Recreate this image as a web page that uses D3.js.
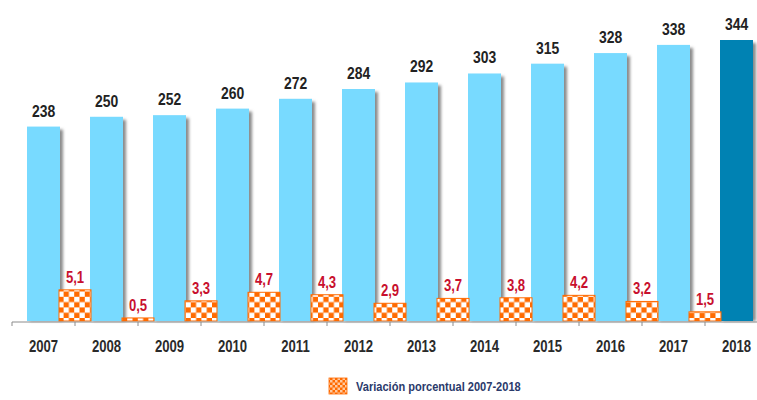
<!DOCTYPE html>
<html><head><meta charset="utf-8">
<script src="https://cdn.jsdelivr.net/npm/d3@7"></script>
<style>
html,body{margin:0;padding:0;background:#fff;}
svg{display:block;}
text{font-family:"Liberation Sans",Arial,sans-serif;}
</style></head>
<body><svg id="chart" width="757" height="400"></svg>
<script>
const years = ["2007","2008","2009","2010","2011","2012","2013","2014","2015","2016","2017","2018"];
const totals = [238,250,252,260,272,284,292,303,315,328,338,344];
const variation = [5.1,0.5,3.3,4.7,4.3,2.9,3.7,3.8,4.2,3.2,1.5];
const varLabels = ["5,1","0,5","3,3","4,7","4,3","2,9","3,7","3,8","4,2","3,2","1,5"];
const legendLabel = "Variación porcentual 2007-2018";

const NARROW = 0.82;
const svg = d3.select("#chart");
const baseY = 321;
const x = d3.scaleBand().domain(years).range([12, 768]).padding(0);
const y = d3.scaleLinear().domain([0, 344]).range([baseY, 40]);
const yv = d3.scaleLinear().domain([0, 46]).range([baseY, 40]);
const bw = x.bandwidth();
const blueW = 33, orangeW = 32;

const defs = svg.append("defs");
const pat = defs.append("pattern").attr("id","checker").attr("patternUnits","userSpaceOnUse")
  .attr("width",10.6).attr("height",10.6);
pat.append("rect").attr("width",10.6).attr("height",10.6).attr("fill","#FF6A00");
pat.append("rect").attr("x",0).attr("y",0).attr("width",5.3).attr("height",5.3).attr("fill","#fff");
pat.append("rect").attr("x",5.3).attr("y",5.3).attr("width",5.3).attr("height",5.3).attr("fill","#fff");
const pat2 = defs.append("pattern").attr("id","checkerSmall").attr("patternUnits","userSpaceOnUse")
  .attr("width",5).attr("height",5);
pat2.append("rect").attr("width",5).attr("height",5).attr("fill","#FF6A00");
pat2.append("rect").attr("width",2.5).attr("height",2.5).attr("fill","#FFC9A0");
pat2.append("rect").attr("x",2.5).attr("y",2.5).attr("width",2.5).attr("height",2.5).attr("fill","#FFC9A0");
const blur = defs.append("filter").attr("id","blur").attr("x","-50%").attr("y","-10%").attr("width","200%").attr("height","120%");
blur.append("feGaussianBlur").attr("stdDeviation",1.6);

const data = years.map((yr,i)=>({yr, v: totals[i]}));
const vdata = variation.map((v,i)=>({yr: years[i], v, lab: varLabels[i]}));

// shadows
svg.append("g").selectAll("rect").data(data).join("rect")
  .attr("x", d => x(d.yr) + bw/2 - blueW/2 + 3)
  .attr("y", d => y(d.v) + 3)
  .attr("width", blueW)
  .attr("height", d => baseY - y(d.v) - 3)
  .attr("fill", "#8a8a8a")
  .attr("filter","url(#blur)");

// blue bars
svg.append("g").selectAll("rect").data(data).join("rect")
  .attr("x", d => x(d.yr) + bw/2 - blueW/2)
  .attr("y", d => y(d.v))
  .attr("width", blueW)
  .attr("height", d => baseY - y(d.v))
  .attr("fill", (d,i) => i === years.length-1 ? "#0082B3" : "#78DAFF");

// value labels
svg.append("g").selectAll("text").data(data).join("text")
  .attr("transform", d => `translate(${x(d.yr) + bw/2},${y(d.v) - 10}) scale(${NARROW},1)`)
  .attr("text-anchor","middle")
  .attr("font-size", 17)
  .attr("font-weight","bold")
  .attr("fill","#222")
  .text(d => d.v);

// orange variation bars
svg.append("g").selectAll("rect").data(vdata).join("rect")
  .attr("x", d => x(d.yr) + bw - orangeW/2)
  .attr("y", d => yv(d.v))
  .attr("width", orangeW)
  .attr("height", d => baseY - yv(d.v))
  .attr("fill","url(#checker)")
  .attr("stroke","#FF6A00")
  .attr("stroke-width",1);

svg.append("g").selectAll("text").data(vdata).join("text")
  .attr("transform", d => `translate(${x(d.yr) + bw},${yv(d.v) - 7}) scale(${NARROW},1)`)
  .attr("text-anchor","middle")
  .attr("font-size", 16)
  .attr("font-weight","bold")
  .attr("fill","#C8102E")
  .text(d => d.lab);

// x axis
const axisG = svg.append("g").attr("transform",`translate(0,${baseY+1})`);
axisG.append("line").attr("x1",12).attr("x2",757).attr("y1",0).attr("y2",0)
  .attr("stroke","#8c8c8c").attr("stroke-width",1);
axisG.selectAll("line.tick").data(years).join("line").attr("class","tick")
  .attr("x1", d => x(d)).attr("x2", d => x(d)).attr("y1",0).attr("y2",4)
  .attr("stroke","#8c8c8c");
axisG.selectAll("text").data(years).join("text")
  .attr("transform", d => `translate(${x(d) + bw/2},30) scale(${NARROW},1)`)
  .attr("text-anchor","middle")
  .attr("font-size", 16)
  .attr("font-weight","bold")
  .attr("fill","#2a2a2a")
  .text(d => d);

// legend
const lg = svg.append("g");
lg.append("rect").attr("x",329).attr("y",378).attr("width",18).attr("height",16)
  .attr("fill","url(#checkerSmall)").attr("stroke","#FF6A00").attr("stroke-width",0.8);
lg.append("text").attr("transform",`translate(356,391) scale(${NARROW},1)`)
  .attr("font-size",13.5).attr("font-weight","bold").attr("fill","#2B3A6B")
  .text(legendLabel);
</script></body></html>
